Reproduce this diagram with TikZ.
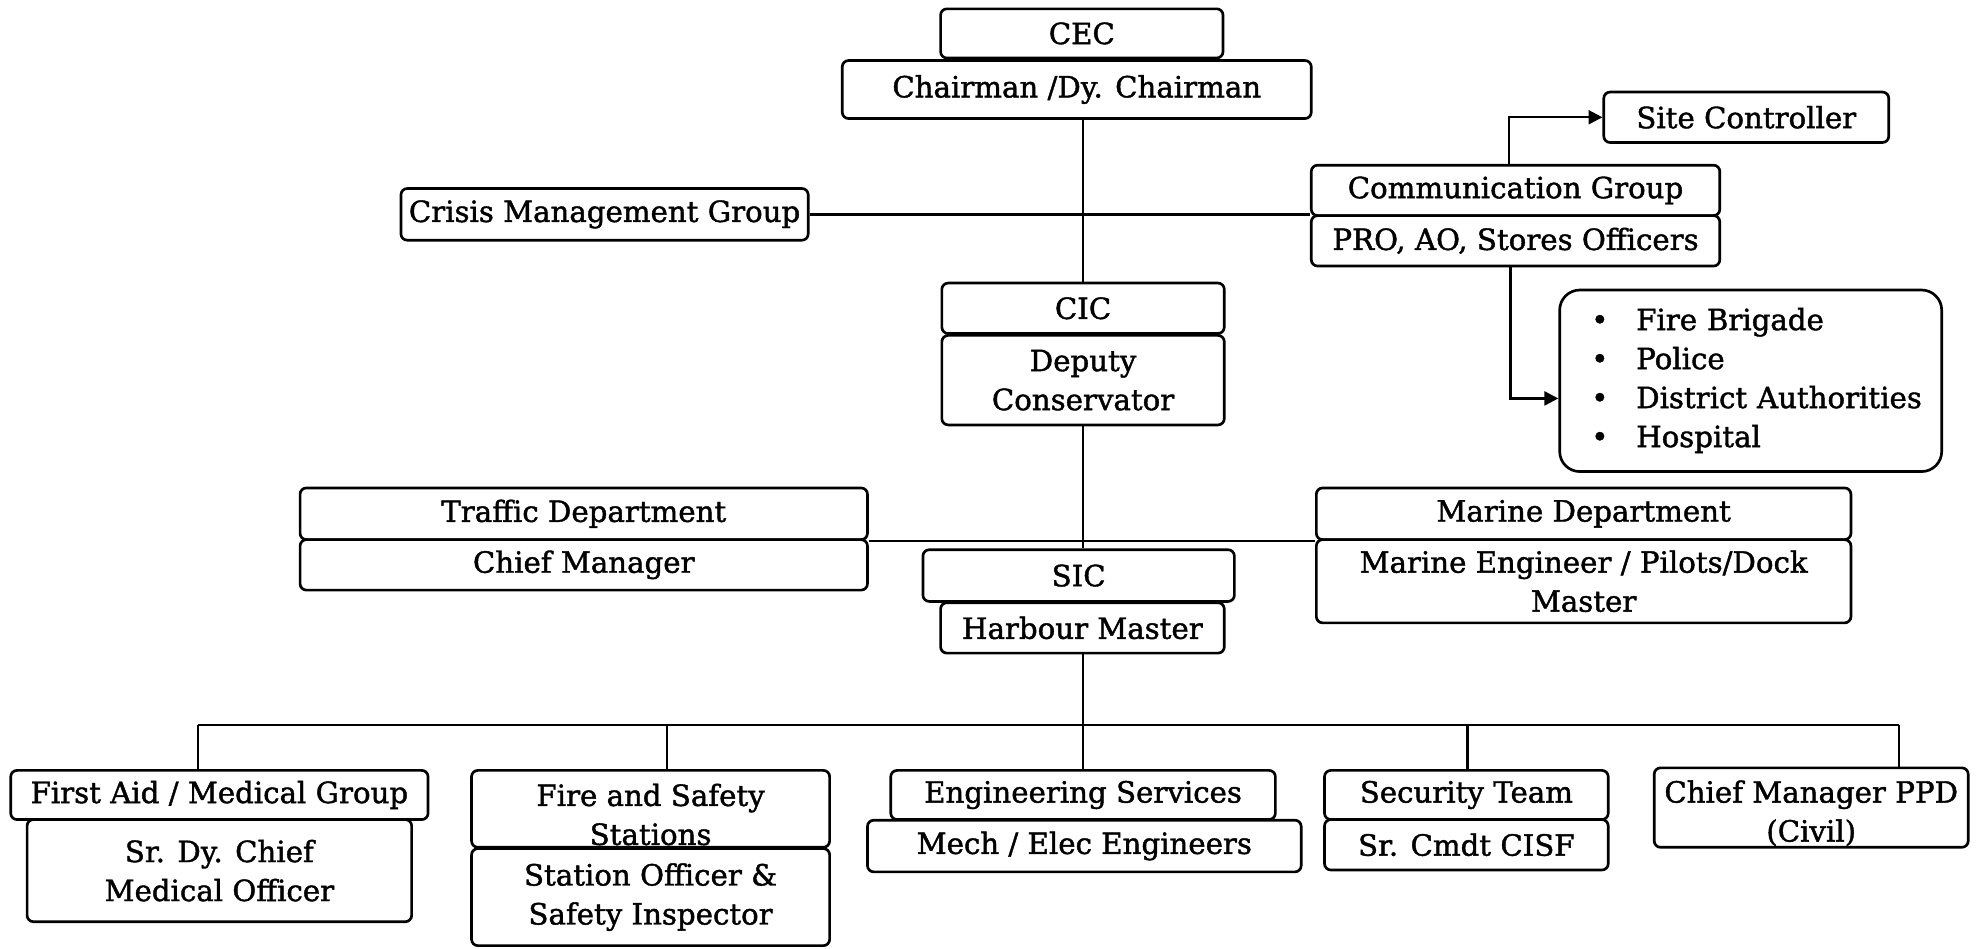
\documentclass[tikz,border=0pt]{standalone}
\usepackage{fontspec}
\setmainfont{DejaVu Serif}[FakeBold=1.4]
\usetikzlibrary{arrows.meta}

\begin{document}
\begin{tikzpicture}[
  x=0.02cm, y=-0.02cm,
  font=\fontsize{13.2}{17.6}\selectfont,
  bx/.style 2 args={draw, line width=1.2pt, rounded corners=0.1cm, fill=white,
    inner sep=0pt, align=center, minimum width=#1*0.02cm, minimum height=#2*0.02cm},
  link/.style={line width=1.1pt},
  arr/.style={line width=1.1pt, -{Triangle[length=0.22cm,width=0.22cm]}},
  cliptext/.style={path picture={\node[align=center] (#1) at ([yshift=-0.09cm]path picture bounding box.center) {\csname txt#1\endcsname};}}
]
\useasboundingbox (0,0) rectangle (1568,752);
\fill[white] (0,0) rectangle (1568,752);

% top of the command chain
\node[bx={224}{39}] (cec) at (858,26.5) {CEC};
\node[bx={372}{46}] (chair) at (854,71) {Chairman /Dy. Chairman};

% crisis group and communication
\node[bx={323}{41}] (cmg) at (479.5,170) {Crisis Management Group};
\node[bx={226}{40}] (site) at (1385,93) {Site Controller};
\node[bx={324}{40}] (comm) at (1202,151) {Communication Group};
\node[bx={324}{40}] (pro) at (1202,191) {PRO, AO, Stores Officers};
\node[bx={303}{144}, rounded corners=0.32cm, align=left, text width=5.06cm] (ext) at (1388.5,302)
  {\begin{tabular}{@{}l@{\hspace{0.44cm}}l@{}}
   • & Fire Brigade\\
   • & Police\\
   • & District Authorities\\
   • & Hospital
   \end{tabular}};

% incident controller
\node[bx={224}{40}] (cic) at (859,244.5) {CIC};
\node[bx={224}{71}] (dep) at (859,301.5) {Deputy\\Conservator};

% departments
\node[bx={450}{41}] (td) at (463,407.5) {Traffic Department};
\node[bx={450}{40}] (cm) at (463,448) {Chief Manager};
\node[bx={424}{41}] (md) at (1256,407.5) {Marine Department};
\node[bx={424}{66}] (me) at (1256,461) {Marine Engineer / Pilots/Dock\\Master};

% site incident controller
\node[bx={247}{41}] (sic) at (855.5,456.5) {SIC};
\node[bx={225}{40}] (hm) at (858.5,498) {Harbour Master};

% field teams
\node[bx={331}{39}] (fa) at (174,630.5) {First Aid / Medical Group};
\node[bx={305}{81}] (sdc) at (174,690.5) {Sr. Dy. Chief\\Medical Officer};
\def\txtfstext{Fire and Safety\\Stations}
\node[bx={284}{61}, cliptext=fstext] (fs) at (516,641.5) {};
\node[bx={284}{77}] (so) at (516,711.5) {Station Officer \&\\Safety Inspector};
\node[bx={305}{39}] (es) at (859,630.5) {Engineering Services};
\node[bx={344}{41}] (mee) at (860,671) {Mech / Elec Engineers};
\node[bx={225}{39}] (st) at (1163,630.5) {Security Team};
\node[bx={225}{40}] (cisf) at (1163,670) {Sr. Cmdt CISF};
\def\txtppdtext{Chief Manager PPD\\(Civil)}
\node[bx={249}{63}, cliptext=ppdtext] (ppd) at (1436.5,640.5) {};

% connectors
\draw[link] (chair.south -| cic.north) -- (cic.north);
\draw[link, line width=1.4pt] (cmg.east) -- (cmg.east -| comm.south west);
\draw[arr] ([xshift=-0.1cm]comm.north) |- (site.west);
\draw[arr] ([xshift=-0.08cm]pro.south) |- ([yshift=-0.28cm]ext.west);
\draw[link] (dep.south) -- (dep.south |- sic.north);
\draw[link] (td.south east) -- (md.south west);
\draw[link] (hm.south -| es.north) -- (es.north);

% distribution bus to the field teams
\coordinate (d1) at (157,575);
\coordinate (d2) at (529,575);
\coordinate (d3) at (859,575);
\coordinate (d4) at (1164,575);
\coordinate (d5) at (1506,575);
\draw[link] (d1) -- (d5);
\draw[link] (d1) -- (d1 |- fa.north);
\draw[link] (d2) -- (d2 |- fs.north);
\draw[link] (d4) -- (d4 |- st.north);
\draw[link] (d5) -- (d5 |- ppd.north);
\end{tikzpicture}
\end{document}
